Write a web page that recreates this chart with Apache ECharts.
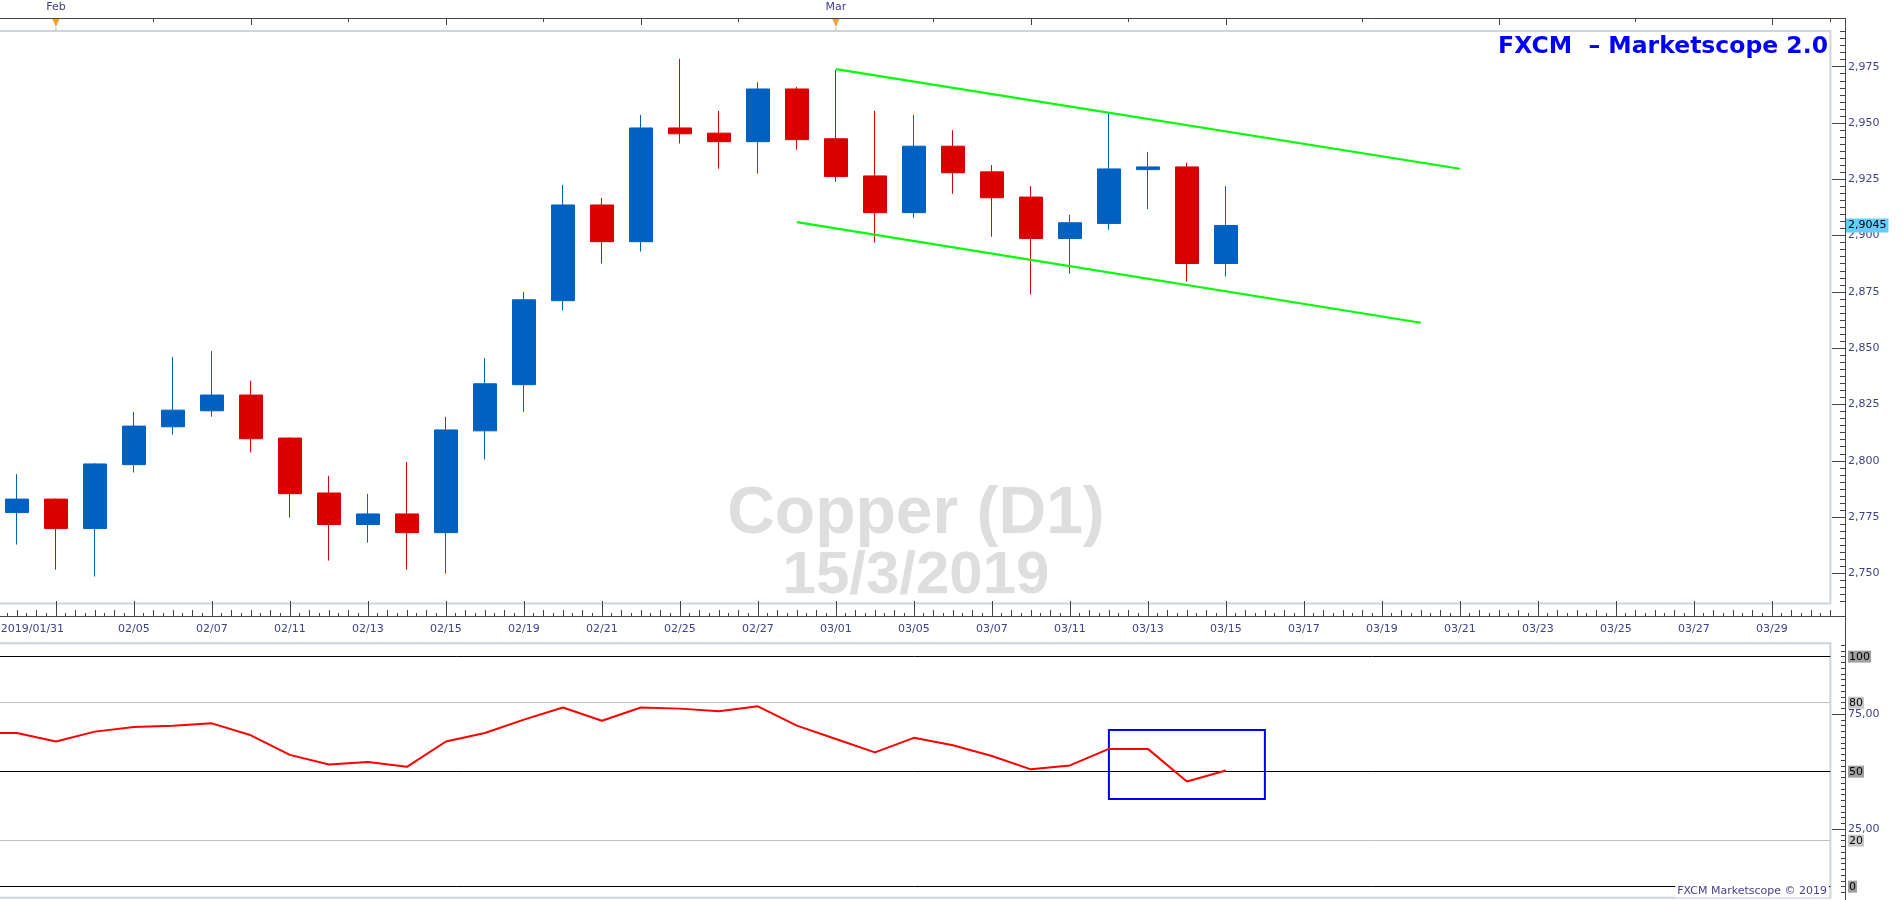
<!DOCTYPE html>
<html>
<head>
<meta charset="utf-8">
<script src="https://cdn.jsdelivr.net/npm/echarts@6/dist/echarts.min.js"></script>
<style>
html,body{margin:0;padding:0;background:#ffffff;}
#c{width:1903px;height:900px;}
</style>
</head>
<body>
<div id="c"></div>
<script>
// ---------------- DATA ----------------
const tradeDates = ['01/31','02/01','02/04','02/05','02/06','02/07','02/08','02/11','02/12','02/13','02/14','02/15',
  '02/18','02/19','02/20','02/21','02/22','02/25','02/26','02/27','02/28','03/01','03/04','03/05','03/06','03/07',
  '03/08','03/11','03/12','03/13','03/14','03/15'];
const futureDates = ['03/16','03/17','03/18','03/19','03/20','03/21','03/22','03/23','03/24','03/25','03/26','03/27','03/28','03/29','03/30'];
const firstDateLabel = '2019/01/31';
const monthIdx = [1, 21];
const monthNames = ['Feb', 'Mar'];
const topLongSlots = [1, 6, 11, 16, 21, 26, 31, 38, 45];
const topShortSlots = [3.5, 8.5, 13.5, 18.5, 23.5, 28.5, 34.5, 41.5];

const opens  = [2.7770,2.7830,2.7699,2.7983,2.8151,2.8222,2.8292,2.8101,2.7857,2.7717,2.7764,2.7681,
  2.8133,2.8338,2.8711,2.9136,2.8973,2.9478,2.9455,2.9417,2.9651,2.9430,2.9265,2.9102,2.9397,2.9283,
  2.9171,2.8987,2.9054,2.9293,2.9305,2.8876];
const closes = [2.7830,2.7699,2.7986,2.8154,2.8225,2.8292,2.8098,2.7854,2.7717,2.7764,2.7681,2.8137,
  2.8342,2.8715,2.9136,2.8973,2.9478,2.9452,2.9417,2.9651,2.9426,2.9262,2.9102,2.9397,2.9279,2.9168,
  2.8987,2.9057,2.9296,2.9305,2.8876,2.9045];
const highs  = [2.7941,2.7832,2.7990,2.8217,2.8461,2.8487,2.8355,2.8104,2.7933,2.7853,2.7995,2.8195,
  2.8456,2.8750,2.9225,2.9167,2.9536,2.9785,2.9554,2.9681,2.9660,2.9736,2.9554,2.9536,2.9468,2.9313,
  2.9220,2.9092,2.9546,2.9371,2.9323,2.9220];
const lows   = [2.7628,2.7517,2.7486,2.7948,2.8116,2.8196,2.8037,2.7748,2.7557,2.7636,2.7517,2.7499,
  2.8006,2.8217,2.8668,2.8876,2.8929,2.9409,2.9297,2.9275,2.9381,2.9239,2.8969,2.9079,2.9186,2.8995,
  2.8739,2.8831,2.9026,2.9118,2.8795,2.8818];

const rsiPrior = 66.8;   // value of the bar before the first visible one (01/30)
const rsi = [66.8,63.1,67.4,69.4,70.0,71.0,65.8,57.3,53.1,54.2,52.1,63.1,66.8,72.6,77.9,72.1,77.9,77.4,
  76.3,78.4,70.0,64.2,58.4,64.7,61.5,56.8,51.0,52.7,59.9,59.9,45.7,50.5];

const upperTrend = [[21, 2.9739], [37, 2.9297]];
const lowerTrend = [[20, 2.9060], [36, 2.8613]];

const priceTicks = [2.750, 2.775, 2.800, 2.825, 2.850, 2.875, 2.900, 2.925, 2.950, 2.975];
const rsiAxisTicks = [25, 75];
const rsiStrongLevels = [0, 50, 100];
const rsiLightLevels = [20, 80];
const boxX = [28, 32];
const boxY = [68.1, 38.1];

const watermark = ['Copper (D1)', '15/3/2019'];
const titleText = 'FXCM  \u2013 Marketscope 2.0';
const footerText = 'FXCM Marketscope \u00a9 2019';

// ---------------- LAYOUT ----------------
const PMIN = 2.73659, PMAX = 2.99085;
const RMIN = -4.8, RMAX = 105.8;
const GRID_L = -2.6, GRID_R = 72.6;
const AX_OFF = 14.6;
const textColor = '#40408a';
const FONT = 'DejaVu Sans';
const axisDark = '#444444';

const allDates = tradeDates.concat(futureDates);
const candleData = opens.map((o, i) => [o, closes[i], lows[i], highs[i]]);
const rsiData = [[-1, rsiPrior]].concat(rsi.map((v, i) => [i, v]));
const halfSlots = allDates.flatMap((d) => [d + 'a', d + 'b']);
const quarterSlots = allDates.flatMap((d) => [d + '1', d + '2', d + '3', d + '4']);
const lastClose = closes[closes.length - 1];
const topShortBoundaries = topShortSlots.map((s) => 2 * s + 1);

const priceMinor = [];
for (let k = -4; k <= 80; k++) {
  const v = Math.round((2.75 + k * 0.003125) * 1e6) / 1e6;
  if (v >= PMIN && v <= PMAX) priceMinor.push(v);
}
const rsiMinor = [];
for (let k = -1; k <= 42; k++) {
  const v = k * 2.5;
  if (v >= RMIN && v <= RMAX) rsiMinor.push(v);
}

const lblBase = { color: textColor, fontFamily: FONT, fontSize: 11 };

function yAx(grid, min, max, tickVals, tickLen, labelCfg) {
  return {
    type: 'value', gridIndex: grid, min: min, max: max, position: 'right', offset: AX_OFF,
    axisLine: { show: false }, splitLine: { show: false },
    axisTick: tickVals ? { show: true, inside: true, length: tickLen, customValues: tickVals,
      lineStyle: { color: axisDark, width: 1 } } : { show: false },
    axisLabel: labelCfg ? Object.assign({ show: true }, labelCfg) : { show: false }
  };
}

const chart = echarts.init(document.getElementById('c'));

const option = {
  animation: false,
  backgroundColor: '#ffffff',
  grid: [
    { left: GRID_L, right: GRID_R, top: 31, bottom: 296.4, show: true, borderColor: '#cdd4de', borderWidth: 2,
      containLabel: false, outerBoundsMode: 'none' },
    { left: GRID_L, right: GRID_R, top: 643.3, bottom: 2.3, show: true, borderColor: '#cdd4de', borderWidth: 2,
      containLabel: false, outerBoundsMode: 'none' }
  ],
  xAxis: [
    { // 0 main date axis
      type: 'category', gridIndex: 0, data: allDates, position: 'bottom', offset: 12.4, boundaryGap: true,
      axisLine: { show: true, lineStyle: { color: axisDark, width: 1 } },
      axisTick: { show: true, inside: true, length: 15, alignWithLabel: true, interval: (i) => i % 2 === 1,
        lineStyle: { color: axisDark } },
      axisLabel: Object.assign({}, lblBase, {
        show: true, margin: 8,
        interval: (i) => i === 0 || (i % 2 === 1 && i > 1),
        formatter: (v, i) => (i === 0 ? '{f|' + firstDateLabel + '}' : v),
        rich: { f: Object.assign({}, lblBase, { padding: [0, 0, 0, 31] }) }
      }),
      splitLine: { show: false }
    },
    { // 1 half-slot ticks
      type: 'category', gridIndex: 0, data: halfSlots, position: 'bottom', offset: 12.4, boundaryGap: true,
      axisLine: { show: false }, axisLabel: { show: false }, splitLine: { show: false },
      axisTick: { show: true, inside: true, length: 6, interval: 0, lineStyle: { color: axisDark } }
    },
    { // 2 quarter-slot ticks
      type: 'category', gridIndex: 0, data: quarterSlots, position: 'bottom', offset: 12.4, boundaryGap: true,
      axisLine: { show: false }, axisLabel: { show: false }, splitLine: { show: false },
      axisTick: { show: true, inside: true, length: 3, interval: 0, lineStyle: { color: axisDark } }
    },
    { // 3 top month axis
      type: 'category', gridIndex: 0, data: allDates, position: 'top', offset: 13, boundaryGap: true,
      axisLine: { show: true, lineStyle: { color: axisDark, width: 1 } },
      axisTick: { show: true, inside: true, length: 7, alignWithLabel: true, interval: (i) => topLongSlots.indexOf(i) >= 0,
        lineStyle: { color: axisDark } },
      axisLabel: Object.assign({}, lblBase, {
        show: true, margin: 5,
        interval: (i) => monthIdx.indexOf(i) >= 0,
        formatter: (v, i) => (monthIdx.indexOf(i) >= 0 ? monthNames[monthIdx.indexOf(i)] : '')
      }),
      splitLine: { show: false }
    },
    { // 4 top short ticks
      type: 'category', gridIndex: 0, data: halfSlots, position: 'top', offset: 13, boundaryGap: true,
      axisLine: { show: false }, axisLabel: { show: false }, splitLine: { show: false },
      axisTick: { show: true, inside: true, length: 4, interval: (k) => topShortBoundaries.indexOf(k) >= 0,
        lineStyle: { color: axisDark } }
    },
    { // 5 sub panel
      type: 'category', gridIndex: 1, data: allDates, boundaryGap: true, show: false
    }
  ],
  yAxis: [
    yAx(0, PMIN, PMAX, priceTicks, 13, Object.assign({}, lblBase, {
      customValues: priceTicks, margin: 3, formatter: (v) => v.toFixed(3).replace('.', ',') })),
    yAx(0, PMIN, PMAX, priceMinor, 5, null),
    yAx(0, PMIN, PMAX, null, 0, Object.assign({}, lblBase, {
      customValues: [lastClose], margin: 1, color: '#000000', backgroundColor: '#66ccff', padding: [2, 2, 1, 2],
      formatter: (v) => v.toFixed(4).replace('.', ',') })),
    yAx(1, RMIN, RMAX, rsiAxisTicks, 13, Object.assign({}, lblBase, {
      customValues: rsiAxisTicks, margin: 3, formatter: (v) => v.toFixed(2).replace('.', ',') })),
    yAx(1, RMIN, RMAX, rsiMinor, 4, null),
    yAx(1, RMIN, RMAX, rsiStrongLevels, 4, Object.assign({}, lblBase, {
      customValues: rsiStrongLevels, margin: 3, color: '#000000', backgroundColor: '#a0a0a0', padding: [1, 1, 0, 1],
      formatter: (v) => String(v) })),
    yAx(1, RMIN, RMAX, null, 0, Object.assign({}, lblBase, {
      customValues: rsiLightLevels, margin: 3, color: '#000000', backgroundColor: '#c8c8c8', padding: [1, 1, 0, 1],
      formatter: (v) => String(v) }))
  ],
  series: [
    {
      type: 'candlestick', xAxisIndex: 0, yAxisIndex: 0, data: candleData, barWidth: 23,
      itemStyle: { color: '#0061c1', color0: '#db0000', borderColor: '#0061c1', borderColor0: '#db0000', borderWidth: 1 },
      z: 3
    },
    {
      type: 'line', xAxisIndex: 0, yAxisIndex: 0, data: upperTrend, symbol: 'none',
      lineStyle: { color: '#00ff00', width: 2.2 }, z: 4
    },
    {
      type: 'line', xAxisIndex: 0, yAxisIndex: 0, data: lowerTrend, symbol: 'none',
      lineStyle: { color: '#00ff00', width: 2.2 }, z: 4
    },
    {
      type: 'line', xAxisIndex: 5, yAxisIndex: 3, data: rsiData, symbol: 'none', clip: true,
      lineStyle: { color: '#ff0000', width: 2 }, z: 5,
      markLine: {
        silent: true, symbol: 'none', label: { show: false }, animation: false,
        data: rsiStrongLevels.map((v) => ({ yAxis: v, lineStyle: { color: '#000000', width: 1, type: 'solid' } }))
          .concat(rsiLightLevels.map((v) => ({ yAxis: v, lineStyle: { color: '#c0c0c0', width: 1, type: 'solid' } })))
      },
      markArea: {
        silent: true,
        itemStyle: { color: 'rgba(0,0,0,0)', borderColor: '#0000ff', borderWidth: 2 },
        data: [[{ coord: [boxX[0], boxY[0]] }, { coord: [boxX[1], boxY[1]] }]]
      }
    }
  ]
};

chart.setOption(option);

// decorations: frame lines, texts, month markers (positions from the library's axis)
const graphics = [
  { type: 'text', z: 0, silent: true, style: { text: watermark[0], x: 916, y: 515, textAlign: 'center', textVerticalAlign: 'middle',
      font: 'bold 66px "Liberation Sans"', fill: '#dedede' } },
  { type: 'text', z: 0, silent: true, style: { text: watermark[1], x: 916, y: 576, textAlign: 'center', textVerticalAlign: 'middle',
      font: 'bold 60px "Liberation Sans"', fill: '#dedede' } },
  { type: 'text', z: 100, silent: true, style: { text: titleText, x: 1828, y: 47, textAlign: 'right', textVerticalAlign: 'middle',
      font: 'bold 23.5px "DejaVu Sans"', fill: '#0000ff' } },
  { type: 'text', z: 100, silent: true, style: { text: footerText, x: 1829, y: 891, textAlign: 'right', textVerticalAlign: 'middle',
      font: '11px "DejaVu Sans"', fill: '#4a3f8f', backgroundColor: '#ffffff', padding: [1, 2, 1, 2] } },
  { type: 'line', z: 100, silent: true, shape: { x1: 1829, y1: 18.5, x2: 1845.5, y2: 18.5 }, style: { stroke: axisDark, lineWidth: 1 } },
  { type: 'line', z: 100, silent: true, shape: { x1: 1845.5, y1: 18, x2: 1845.5, y2: 900 }, style: { stroke: axisDark, lineWidth: 1 } },
  { type: 'line', z: 100, silent: true, shape: { x1: 1829, y1: 616.5, x2: 1845.5, y2: 616.5 }, style: { stroke: axisDark, lineWidth: 1 } }
];
monthIdx.forEach((idx) => {
  const px = chart.convertToPixel({ xAxisIndex: 0 }, allDates[idx]);
  graphics.push({ type: 'polygon', z: 100, silent: true,
    shape: { points: [[px - 3.5, 19], [px + 3.5, 19], [px, 27]] }, style: { fill: '#f7a21b' } });
  graphics.push({ type: 'line', z: 100, silent: true,
    shape: { x1: px, y1: 27, x2: px, y2: 31 }, style: { stroke: '#c0c0c0', lineWidth: 1 } });
});
chart.setOption({ graphic: graphics });
</script>
</body>
</html>
